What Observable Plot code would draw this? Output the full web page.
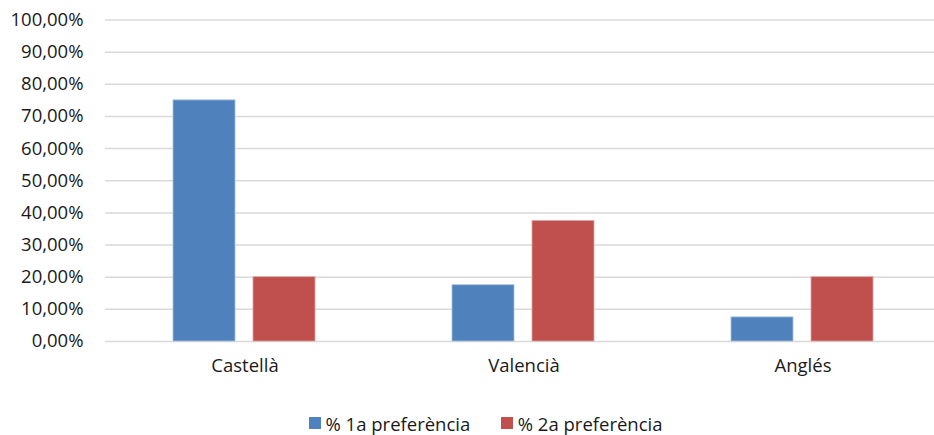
<!DOCTYPE html>
<html>
<head>
<meta charset="utf-8">
<script src="https://cdn.jsdelivr.net/npm/d3@7"></script>
<script src="https://cdn.jsdelivr.net/npm/@observablehq/plot@0.6"></script>
<style>
  html, body { margin: 0; padding: 0; background: #fff; overflow: hidden; }
  body { width: 934px; height: 435px; font-family: "Open Sans", "Liberation Sans", sans-serif; }
  #legend { display: flex; align-items: center; margin-left: 309px; height: 24px; margin-top: 11px; font-size: 18.5px; color: #1a1a1a; }
  #legend .item { display: flex; align-items: center; }
  #legend .sw { width: 11.5px; height: 11.5px; margin-right: 5px; }
</style>
</head>
<body>
<div id="chart"></div>
<script>
const categories = ["Castellà", "Valencià", "Anglés"];
const seriesNames = ["% 1a preferència", "% 2a preferència"];
const first = [0.75, 0.175, 0.075];
const second = [0.20, 0.375, 0.20];
const yTicks = [0, 0.1, 0.2, 0.3, 0.4, 0.5, 0.6, 0.7, 0.8, 0.9, 1.0];
const colors = ["#4f81bd", "#c0504d"];

const d1 = categories.map((c, i) => ({cat: c, value: first[i]}));
const d2 = categories.map((c, i) => ({cat: c, value: second[i]}));
const fmt = d => (d * 100).toFixed(2).replace(".", ",") + "%";

const chart = Plot.plot({
  width: 934,
  height: 400,
  marginLeft: 105,
  marginRight: 0,
  marginTop: 19.5,
  marginBottom: 59,
  style: {fontFamily: "'Open Sans', 'Liberation Sans', sans-serif", fontSize: "18.5px", color: "#1a1a1a", background: "#fff", overflow: "hidden"},
  x: {type: "band", domain: categories, range: [105, 942], padding: 0, label: null},
  y: {domain: [0, 1], label: null},
  marks: [
    Plot.gridY(yTicks, {stroke: "#d9d9d9", strokeOpacity: 1, strokeWidth: 1.5}),
    Plot.axisY(yTicks, {tickFormat: fmt, tickSize: 0, tickPadding: 22, label: null, fontSize: "18.5px", fill: "#1a1a1a"}),
    Plot.axisX({tickSize: 0, tickPadding: 17, label: null, fontSize: "18.5px", fill: "#1a1a1a"}),
    Plot.barY(d1, {x: "cat", y: "value", fill: colors[0], insetLeft: 68, insetRight: 149, stroke: "#a9c0dd", strokeWidth: 0.8}),
    Plot.barY(d2, {x: "cat", y: "value", fill: colors[1], insetLeft: 148, insetRight: 69, stroke: "#dfa3a1", strokeWidth: 0.8})
  ]
});
document.getElementById("chart").appendChild(chart);

const legend = document.createElement("div");
legend.id = "legend";
seriesNames.forEach((name, i) => {
  const item = document.createElement("div");
  item.className = "item";
  if (i > 0) item.style.marginLeft = "31px";
  const sw = document.createElement("div");
  sw.className = "sw";
  sw.style.background = colors[i];
  const t = document.createElement("span");
  t.textContent = name;
  item.appendChild(sw);
  item.appendChild(t);
  legend.appendChild(item);
});
document.body.appendChild(legend);
</script>
</body>
</html>
